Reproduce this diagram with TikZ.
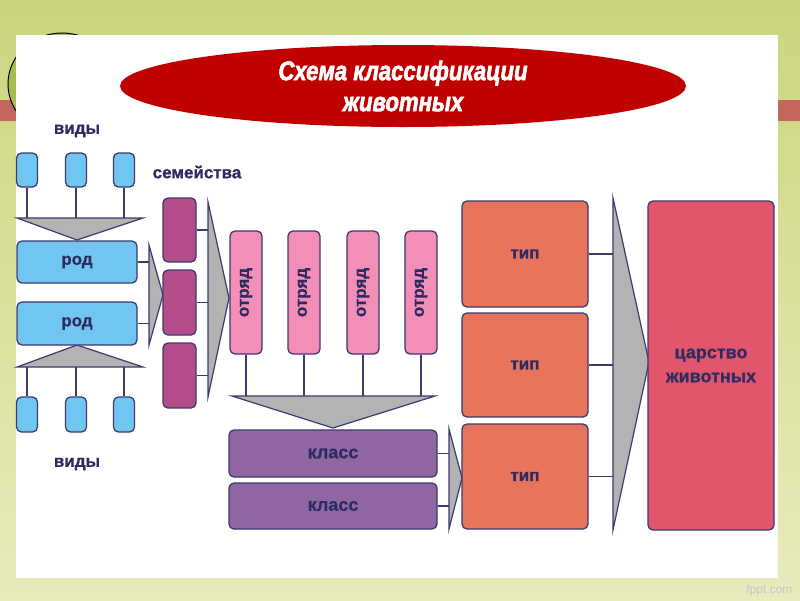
\documentclass[tikz,border=0pt]{standalone}
\usepackage{fontspec}
\setmainfont{Liberation Sans}[BoldFont={Liberation Sans Bold}, ItalicFont={Liberation Sans Italic}, BoldItalicFont={Liberation Sans Bold Italic}, BoldFeatures={FakeBold=0.8}]
\newfontfamily\titlefont{Liberation Sans Bold Italic}[FakeStretch=0.82, FakeBold=2.2]
\usetikzlibrary{shapes.geometric}
\definecolor{bgtop}{HTML}{CBD57C}
\definecolor{bgbot}{HTML}{E9EBBD}
\definecolor{stripe}{HTML}{C4665C}
\definecolor{navy}{HTML}{2E2B60}
\definecolor{bord}{HTML}{3D3A6C}
\definecolor{bluef}{HTML}{70C6F0}
\definecolor{grayf}{HTML}{B3B3B3}
\definecolor{magf}{HTML}{B44E8A}
\definecolor{pinkf}{HTML}{F28EB7}
\definecolor{purpf}{HTML}{9166A4}
\definecolor{salmf}{HTML}{E8745C}
\definecolor{crimf}{HTML}{E2556D}
\definecolor{titlef}{HTML}{C00000}
\definecolor{leaf}{HTML}{A9BC52}
\tikzset{
  box/.style={draw=bord, line width=1.3pt, rounded corners=5pt, inner sep=0pt,
    font=\bfseries\fontsize{17}{20}\selectfont, text=navy},
  bluebox/.style={box, fill=bluef},
  magbox/.style={box, fill=magf},
  pinkbox/.style={box, fill=pinkf},
  purpbox/.style={box, fill=purpf, font=\bfseries\fontsize{18}{21}\selectfont},
  salmbox/.style={box, fill=salmf},
  crimbox/.style={box, fill=crimf, font=\bfseries\fontsize{18}{24}\selectfont, align=center},
  tri/.style={draw=bord, line width=1.2pt, fill=grayf, line join=miter},
  conn/.style={draw=bord, line width=1.2pt},
  lbl/.style={text=navy, font=\bfseries\fontsize{17}{20}\selectfont, inner sep=0pt}
}
\begin{document}
\begin{tikzpicture}[x=1pt,y=-1pt]
\useasboundingbox (0,0) rectangle (800,600);
% background
\fill[top color=bgtop, bottom color=bgbot] (0,0) rectangle (800,600);
\fill[stripe] (0,100) rectangle (800,121);
\filldraw[fill=leaf, draw=black, line width=1pt] (62,84) ellipse [x radius=54, y radius=51];
% white panel
\fill[white] (16,35) rectangle (778,578);
\node[text=black!22, font=\fontsize{12}{14}\selectfont, anchor=east] (fppt) at (796,590) {fppt.com};
% title
\node[ellipse, fill=titlef, minimum width=566pt, minimum height=82pt, inner sep=0pt,
  text=white, align=center, font=\titlefont\fontsize{27}{31}\selectfont]
  (title) at (403,86) {Схема классификации\\животных};
% labels
\node[lbl] (vidy1) at (77,131) {виды};
\node[lbl] (sem) at (197,172) {семейства};
\node[lbl] (vidy2) at (77,464) {виды};
% triangle coordinates
\coordinate (T1l) at (17,218); \coordinate (T1r) at (143,218); \coordinate (T1a) at (77,240);
\coordinate (T2l) at (17,367); \coordinate (T2r) at (143,367); \coordinate (T2a) at (77,345);
\coordinate (A1t) at (149,245); \coordinate (A1b) at (149,345); \coordinate (A1a) at (163,295);
\coordinate (A2t) at (208,202); \coordinate (A2b) at (208,397); \coordinate (A2a) at (229,298);
\coordinate (T3l) at (232,396); \coordinate (T3r) at (435,396); \coordinate (T3a) at (333,428);
\coordinate (A3t) at (449,429); \coordinate (A3b) at (449,529); \coordinate (A3a) at (462,478);
\coordinate (A4t) at (613,198); \coordinate (A4b) at (613,530); \coordinate (A4a) at (649,362);
% triangles
\draw[tri] (T1l) -- (T1r) -- (T1a) -- cycle;
\draw[tri] (T2l) -- (T2r) -- (T2a) -- cycle;
\draw[tri] (A1t) -- (A1a) -- (A1b) -- cycle;
\draw[tri] (A2t) -- (A2a) -- (A2b) -- cycle;
\draw[tri] (T3l) -- (T3r) -- (T3a) -- cycle;
\draw[tri] (A3t) -- (A3a) -- (A3b) -- cycle;
\draw[tri] (A4t) -- (A4a) -- (A4b) -- cycle;
% species boxes
\foreach \n/\x in {1/27, 2/76, 3/124}{
  \node[bluebox, minimum width=21pt, minimum height=34pt] (v\n) at (\x,170) {};
  \node[bluebox, minimum width=21pt, minimum height=35pt] (w\n) at (\x,414.5) {};
  \draw[conn] (v\n.south) -- (v\n.south |- T1l);
  \draw[conn] (w\n.north) -- (w\n.north |- T2l);
}
% genus
\node[bluebox, minimum width=120pt, minimum height=42pt] (rod1) at (77,262) {род};
\node[bluebox, minimum width=120pt, minimum height=43pt] (rod2) at (77,323.5) {род};
\draw[conn] (rod1.east) -- (rod1.east -| A1t);
\draw[conn] (rod2.east) -- (rod2.east -| A1t);
% families
\node[magbox, minimum width=33pt, minimum height=64pt] (s1) at (179.5,230) {};
\node[magbox, minimum width=33pt, minimum height=65pt] (s2) at (179.5,302.5) {};
\node[magbox, minimum width=33pt, minimum height=65pt] (s3) at (179.5,375.5) {};
\foreach \n in {1,2,3}{ \draw[conn] (s\n.east) -- (s\n.east -| A2t); }
% orders
\foreach \n/\x in {1/246, 2/304, 3/363, 4/421}{
  \node[pinkbox, minimum width=32pt, minimum height=123pt,
    label={[rotate=90, text=navy, font=\bfseries\fontsize{17}{20}\selectfont]center:отряд}] (o\n) at (\x,292.5) {};
  \draw[conn] (o\n.south) -- (o\n.south |- T3l);
}
% classes
\node[purpbox, minimum width=208pt, minimum height=47pt] (k1) at (333,453.5) {класс};
\node[purpbox, minimum width=208pt, minimum height=46pt] (k2) at (333,506) {класс};
\draw[conn] (k1.east) -- (k1.east -| A3t);
\draw[conn] (k2.east) -- (k2.east -| A3t);
% phyla
\node[salmbox, minimum width=126pt, minimum height=106pt] (t1) at (525,254) {тип};
\node[salmbox, minimum width=126pt, minimum height=104pt] (t2) at (525,365) {тип};
\node[salmbox, minimum width=126pt, minimum height=105pt] (t3) at (525,476.5) {тип};
\foreach \n in {1,2,3}{ \draw[conn] (t\n.east) -- (t\n.east -| A4t); }
% kingdom
\node[crimbox, minimum width=126pt, minimum height=329pt] (king) at (711,365.5) {царство\\животных};
\end{tikzpicture}
\end{document}
